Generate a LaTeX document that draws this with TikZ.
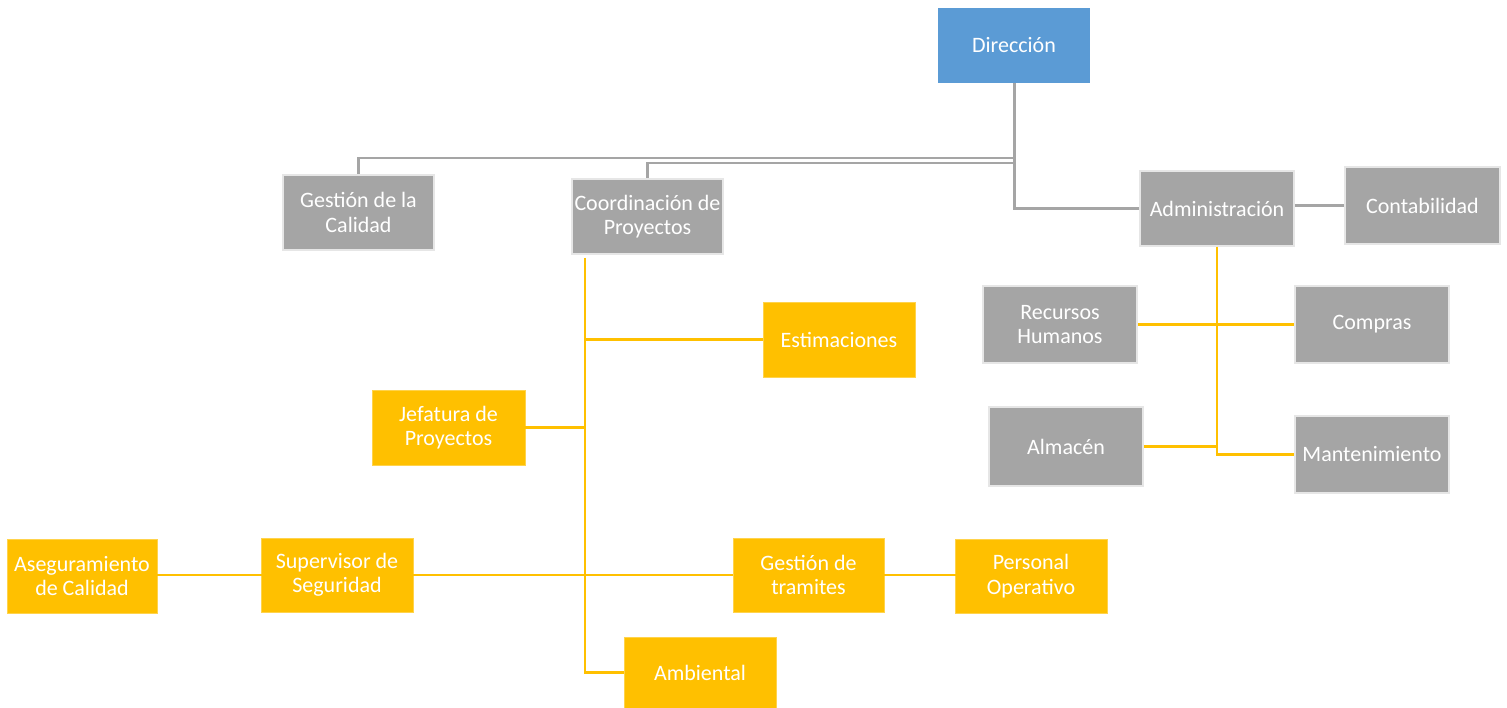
\documentclass[tikz,border=0pt]{standalone}
\usepackage{fontspec}
\setmainfont{Carlito}
\definecolor{dirblue}{HTML}{5B9BD5}
\definecolor{orggray}{HTML}{A5A5A5}
\definecolor{orgyellow}{HTML}{FFC000}
\definecolor{rimgray}{HTML}{E6E6E6}
\begin{document}
\begin{tikzpicture}[x=1pt,y=-1pt,
  unit/.style={rectangle, inner sep=2pt, align=center, text=white,
    font=\fontsize{22}{24.5}\selectfont},
  bluebox/.style={unit, fill=dirblue},
  graybox/.style={unit, fill=orggray, draw=rimgray, line width=1.5pt},
  yellowbox/.style={unit, fill=orgyellow, draw=orgyellow!70!white, line width=0.8pt},
  grayline/.style={draw=orggray, line width=2.2pt},
  yellowline/.style={draw=orgyellow, line width=2.6pt}]
\useasboundingbox (0,0) rectangle (1507,708);
\fill[white] (0,0) rectangle (1507,708);

% top level
\node[bluebox, minimum width=152pt, minimum height=75pt] (dir) at (1014,45.5) {Dirección};

% second level
\node[graybox, minimum width=151pt, minimum height=75pt] (gq) at (358.5,212.5) {Gestión de la\\Calidad};
\node[graybox, minimum width=151pt, minimum height=75pt] (cp) at (647.5,216.5) {Coordinación de\\Proyectos};
\node[graybox, minimum width=154pt, minimum height=75pt] (adm) at (1217,208.5) {Administración};
\node[graybox, minimum width=155pt, minimum height=77pt] (cont) at (1422.5,205.5) {Contabilidad};

% administration branch
\node[graybox, minimum width=154pt, minimum height=77pt] (rh) at (1060,324.5) {Recursos\\Humanos};
\node[graybox, minimum width=154pt, minimum height=77pt] (comp) at (1372,324.5) {Compras};
\node[graybox, minimum width=154pt, minimum height=79pt] (alm) at (1066,446.5) {Almacén};
\node[graybox, minimum width=154pt, minimum height=77pt] (mant) at (1372,454.5) {Mantenimiento};

% project coordination branch
\node[yellowbox, minimum width=152pt, minimum height=75pt] (est) at (839,339.5) {Estimaciones};
\node[yellowbox, minimum width=153pt, minimum height=75pt] (jef) at (448.5,427.5) {Jefatura de\\Proyectos};
\node[yellowbox, minimum width=150pt, minimum height=74pt] (ase) at (82,576) {Aseguramiento\\de Calidad};
\node[yellowbox, minimum width=152pt, minimum height=74pt] (sup) at (337,575) {Supervisor de\\Seguridad};
\node[yellowbox, minimum width=151pt, minimum height=74pt] (gt) at (808.5,575) {Gestión de\\tramites};
\node[yellowbox, minimum width=152pt, minimum height=74pt] (po) at (1031,576) {Personal\\Operativo};
\node[yellowbox, minimum width=152pt, minimum height=71pt] (amb) at (700,672.5) {Ambiental};

% gray connectors from the direction
\draw[grayline] (dir.south) -- ++(0,75) -| (gq.north);
\draw[grayline] (dir.south) ++(0,80) -| (cp.north);
\draw[grayline, line width=3pt] (dir.south) |- (adm.west);
\draw[grayline] (adm.east |- cont.west) -- (cont.west);

% yellow connectors of administration
\coordinate (av) at (adm.south);
\draw[yellowline] (av) |- (mant.west);
\draw[yellowline] (rh.east) -- (comp.west);
\draw[yellowline] (alm.east) -- (av |- alm.east);

% yellow connectors of project coordination
\coordinate (cpv) at (585,258);
\draw[yellowline] (cpv) |- (amb.west);
\draw[yellowline] (cpv |- est.west) -- (est.west);
\draw[yellowline] (jef.east) -- (cpv |- jef.east);
\draw[yellowline] (sup.east) -- (gt.west);
\draw[yellowline] ([xshift=-3pt]ase.east |- sup.west) -- ([xshift=3pt]sup.west);
\draw[yellowline] ([xshift=-4pt]gt.east) -- ([xshift=3pt]po.west |- gt.east);
\end{tikzpicture}
\end{document}
